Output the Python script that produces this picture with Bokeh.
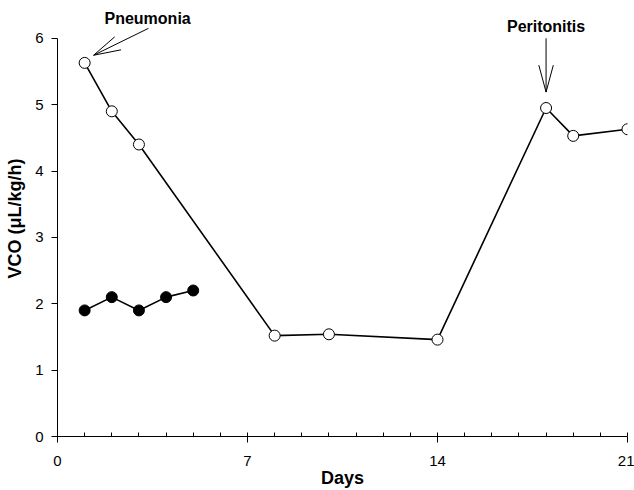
import math
from bokeh.plotting import figure
from bokeh.models import FixedTicker, Arrow, Label, Range1d
from bokeh.embed import file_html
from bokeh.resources import INLINE

# Data
open_days = [1, 2, 3, 8, 10, 14, 18, 19, 21]
open_vco = [5.63, 4.90, 4.40, 1.52, 1.54, 1.46, 4.95, 4.53, 4.63]
filled_days = [1, 2, 3, 4, 5]
filled_vco = [1.9, 2.1, 1.9, 2.1, 2.2]
x_major = [0, 7, 14, 21]
x_minor = list(range(0, 22))
y_major = [0, 1, 2, 3, 4, 5, 6]

# Annotations (data coordinates): label x, label y, arrow tail, arrow tip
ann_text = ["Pneumonia", "Peritonitis"]
ann_label_x = [3.32, 18.0]
ann_label_y = [6.30, 6.18]
ann_tail_x = [3.35, 18.0]
ann_tail_y = [6.15, 6.00]
ann_tip_x = [1.33, 18.0]
ann_tip_y = [5.745, 5.19]

FONT = "Liberation Sans"

# layout
W, H = 634, 490
BL, BR, BT, BB = 57, 7, 0, 52
X0, X1 = 0, 21
Y0, Y1 = 0, 6.57

p = figure(width=W, height=H, output_backend="svg", toolbar_location=None,
           x_range=Range1d(X0, X1), y_range=Range1d(Y0, Y1),
           min_border_left=BL, min_border_right=BR, min_border_top=BT, min_border_bottom=BB)
p.outline_line_color = None
p.grid.visible = False
p.background_fill_color = "white"
p.border_fill_color = "white"

p.line(open_days, open_vco, line_color="black", line_width=1.6)
p.scatter(open_days, open_vco, size=11, fill_color="white", line_color="black", line_width=1)
p.line(filled_days, filled_vco, line_color="black", line_width=1.6)
p.scatter(filled_days, filled_vco, size=11, fill_color="black", line_color="black")

xa = p.xaxis[0]
xa.ticker = FixedTicker(ticks=x_major, minor_ticks=x_minor)
xa.bounds = (0, 21)
xa.axis_label = "Days"
xa.axis_label_text_font = FONT
xa.axis_label_text_font_style = "bold"
xa.axis_label_text_font_size = "18px"
xa.axis_label_text_color = "black"
xa.axis_label_standoff = -1
xa.major_label_text_font = FONT
xa.major_label_text_font_size = "15px"
xa.major_label_text_color = "black"
xa.major_label_standoff = 13
xa.major_tick_in = 0
xa.major_tick_out = 6
xa.minor_tick_in = 4
xa.minor_tick_out = 0
xa.axis_line_color = "black"
xa.major_tick_line_color = "black"
xa.minor_tick_line_color = "black"

ya = p.yaxis[0]
ya.ticker = FixedTicker(ticks=y_major, minor_ticks=[])
ya.bounds = (0, 6)
ya.axis_label = "VCO (\u03bcL/kg/h)"
ya.axis_label_text_font = FONT
ya.axis_label_text_font_style = "bold"
ya.axis_label_text_font_size = "18px"
ya.axis_label_text_color = "black"
ya.axis_label_standoff = 7
ya.major_label_text_font = FONT
ya.major_label_text_font_size = "15px"
ya.major_label_text_color = "black"
ya.major_label_standoff = 8
ya.major_tick_in = 0
ya.major_tick_out = 6
ya.minor_tick_in = 0
ya.minor_tick_out = 0
ya.axis_line_color = "black"
ya.major_tick_line_color = "black"
ya.major_label_orientation = "horizontal"

# pixel scale of the frame
sx = (W - BL - BR) / (X1 - X0)
sy = (H - BT - BB) / (Y1 - Y0)
BARB_LEN, BARB_ANG = 28, math.radians(15)

for txt, lx, ly, tx, ty, hx, hy in zip(ann_text, ann_label_x, ann_label_y,
                                       ann_tail_x, ann_tail_y, ann_tip_x, ann_tip_y):
    p.add_layout(Label(x=lx, y=ly, text=txt, text_font=FONT, text_font_style="bold",
                       text_font_size="16px", text_color="black",
                       text_align="center", text_baseline="middle"))
    p.add_layout(Arrow(end=None, x_start=tx, y_start=ty, x_end=hx, y_end=hy,
                       line_width=1, line_color="black"))
    ang = math.atan2((hy - ty) * sy, (hx - tx) * sx)
    for s in (1, -1):
        a = ang + s * BARB_ANG
        bx = hx - BARB_LEN * math.cos(a) / sx
        by = hy - BARB_LEN * math.sin(a) / sy
        p.add_layout(Arrow(end=None, x_start=hx, y_start=hy, x_end=bx, y_end=by,
                           line_width=1, line_color="black"))

open("out.html", "w").write(file_html(p, INLINE))
